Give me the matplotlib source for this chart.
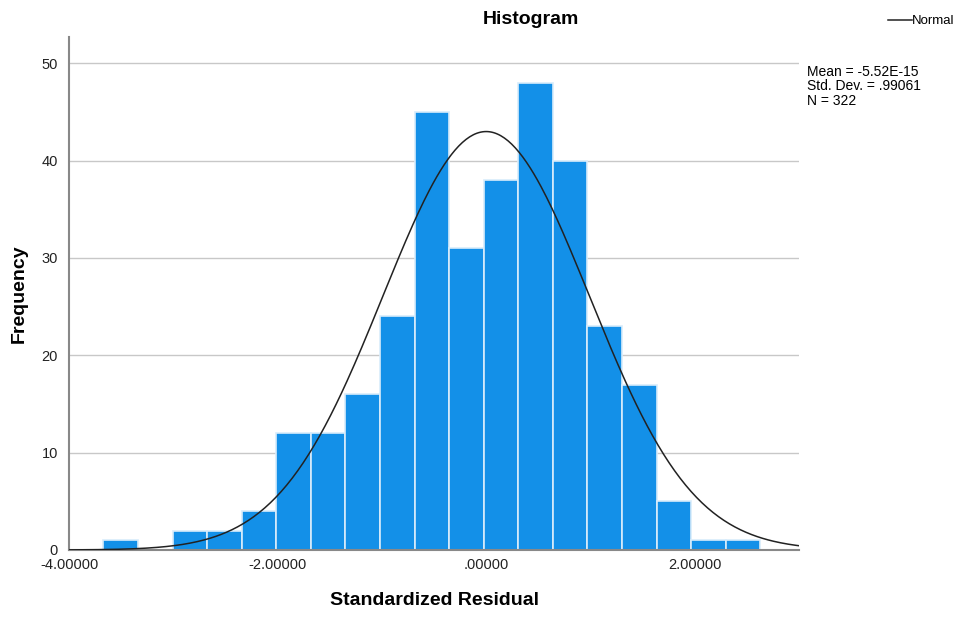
import numpy as np
import matplotlib
matplotlib.use("Agg")
import matplotlib.pyplot as plt

plt.rcParams['font.family'] = ['Liberation Sans', 'DejaVu Sans']

# histogram of standardized residuals
bin_start = -3.67
bin_width = 0.3315
counts = [1, 0, 2, 2, 4, 12, 12, 16, 24, 45, 31, 38, 48, 40, 23, 17, 5, 1, 1]
mean = -5.52e-15
sd = 0.99061
n = 322
xticks = [-4.0, -2.0, 0.0, 2.0]
xtick_labels = ['-4.00000', '-2.00000', '.00000', '2.00000']
yticks = [0, 10, 20, 30, 40, 50]

fig = plt.figure(figsize=(9.6, 6.17), dpi=100)
ax = fig.add_axes([0.0719, 0.1086, 0.7604, 0.8314])

lefts = bin_start + bin_width * np.arange(len(counts))
ax.bar(lefts, counts, width=bin_width, align='edge', color='#1390e8',
       edgecolor='#d8ecfb', linewidth=1.2, zorder=2)

xs = np.linspace(-4, 3, 400)
ys = n * bin_width / (sd * np.sqrt(2 * np.pi)) * np.exp(-0.5 * ((xs - mean) / sd) ** 2)
line, = ax.plot(xs, ys, color='#222222', linewidth=1.1, zorder=3)

ax.set_xlim(-4, 3)
ax.set_ylim(0, 52.7)
ax.set_xticks(xticks)
ax.set_xticklabels(xtick_labels)
ax.set_yticks(yticks)
ax.tick_params(length=0, labelsize=10.5, colors='#222222')
ax.tick_params(axis='x', pad=6)
ax.tick_params(axis='y', pad=8)
ax.yaxis.grid(True, color='#c8c8c8', linewidth=1.0, zorder=0)
ax.set_axisbelow(True)
for s in ['top', 'right']:
    ax.spines[s].set_visible(False)
for s in ['left', 'bottom']:
    ax.spines[s].set_color('#888888')
    ax.spines[s].set_linewidth(1.5)

ax.set_xlabel('Standardized Residual', fontsize=14, fontweight='bold', labelpad=14)
ax.set_ylabel('Frequency', fontsize=14, fontweight='bold', labelpad=10)
fig.text(0.553, 0.968, 'Histogram', fontsize=14, fontweight='bold', ha='center', va='center')

fig.legend([line], ['Normal'], loc='upper right', bbox_to_anchor=(1.007, 0.995),
           frameon=False, fontsize=9.5, handlelength=1.8, handletextpad=0.05)
fig.text(0.841, 0.895, 'Mean = -5.52E-15\nStd. Dev. = .99061\nN = 322',
         fontsize=10, va='top', ha='left', linespacing=1.05)

fig.savefig('out.png', dpi=100)
